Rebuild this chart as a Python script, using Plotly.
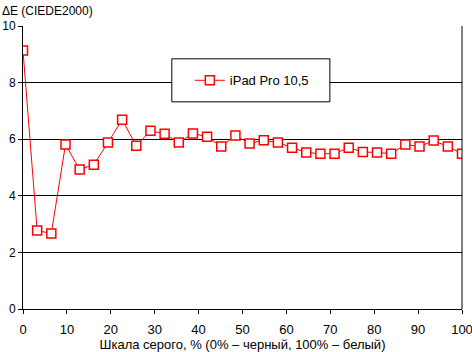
import plotly.graph_objects as go

n_points = 32
x_vals = [i * 100 / 31 for i in range(n_points)]
de_vals = [9.13, 2.77, 2.67, 5.81, 4.93, 5.10, 5.88, 6.69, 5.77, 6.30, 6.19, 5.88,
           6.20, 6.09, 5.74, 6.13, 5.85, 5.96, 5.88, 5.70, 5.53, 5.49, 5.49, 5.70,
           5.55, 5.53, 5.49, 5.81, 5.74, 5.95, 5.74, 5.49]
series_name = "iPad Pro 10,5"
x_ticks = [0, 10, 20, 30, 40, 50, 60, 70, 80, 90, 100]
y_ticks = [0, 2, 4, 6, 8, 10]

FONT = "Liberation Sans, Arial, sans-serif"

fig = go.Figure()
fig.add_trace(go.Scatter(
    x=x_vals, y=de_vals, mode="lines+markers", name=series_name,
    line=dict(color="#ff0000", width=1),
    marker=dict(symbol="square", size=9, color="white",
                line=dict(color="#ff0000", width=1.5)),
))

fig.update_layout(
    width=472, height=352,
    margin=dict(l=23, r=10, t=26, b=43, autoexpand=False),
    paper_bgcolor="white", plot_bgcolor="white",
    font=dict(family=FONT, size=12, color="black"),
    showlegend=True,
    legend=dict(x=0.38, y=0.808, xanchor="left", yanchor="middle",
                bgcolor="rgba(0,0,0,0)", borderwidth=0, itemwidth=30,
                font=dict(family=FONT, size=13, color="black")),
    xaxis=dict(range=[0, 100], tickvals=x_ticks, ticks="outside", ticklen=4,
               tickcolor="black", showline=True, linecolor="black", linewidth=1,
               mirror=False, showgrid=False, zeroline=False, automargin=False,
               ticklabeloverflow="allow", ticklabelstandoff=4,
               tickfont=dict(size=13),
               title=dict(text="Шкала серого, % (0% – черный, 100% – белый)",
                          standoff=4, font=dict(size=13))),
    yaxis=dict(range=[0, 10], tickvals=y_ticks, ticks="outside", ticklen=4,
               tickcolor="black", showline=True, linecolor="black", linewidth=1,
               showgrid=True, gridcolor="black", gridwidth=1, zeroline=False,
               automargin=False, ticklabeloverflow="allow", ticklabelstandoff=0,
               tickfont=dict(size=12)),
    shapes=[
        dict(type="line", xref="paper", yref="paper", x0=1, x1=1, y0=0, y1=1,
             line=dict(color="black", width=1)),
        dict(type="rect", xref="paper", yref="paper", x0=0.339, x1=0.699,
             y0=0.732, y1=0.884, fillcolor="white",
             line=dict(color="black", width=1), layer="above"),
    ],
    annotations=[
        dict(text="ΔE (CIEDE2000)", xref="paper", yref="paper", x=-23/439, y=1,
             xanchor="left", yanchor="bottom", yshift=6, showarrow=False,
             font=dict(size=12)),
    ],
)

fig.write_html("out.html")
